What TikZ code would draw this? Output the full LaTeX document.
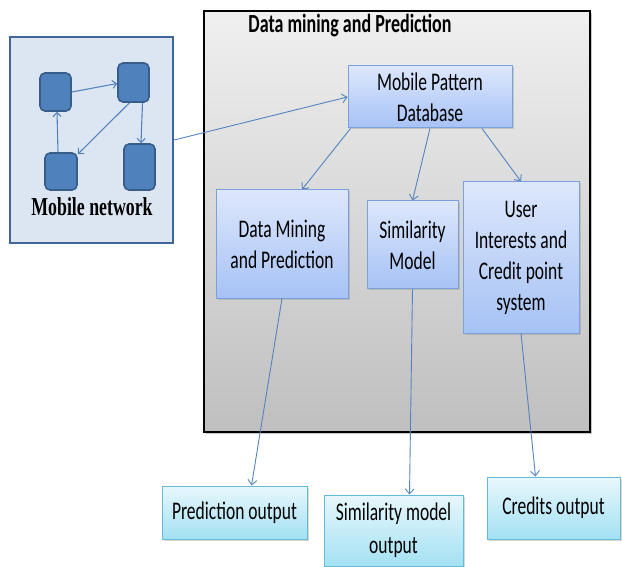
\documentclass[tikz,border=0pt]{standalone}
\usepackage{graphicx}
\usepackage{fontspec}
\setmainfont{Carlito}
\newfontfamily\netfont{Liberation Serif}
\usetikzlibrary{arrows.meta,shadows}

\definecolor{netfill}{HTML}{DCE6F2}
\definecolor{netedge}{HTML}{41669C}
\definecolor{sqfill}{HTML}{4F81BD}
\definecolor{sqedge}{HTML}{385D8A}
\definecolor{blktop}{HTML}{DDE7FC}
\definecolor{blkbot}{HTML}{A6C2F5}
\definecolor{blkedge}{HTML}{7CA0DA}
\definecolor{outtop}{HTML}{E8F7FC}
\definecolor{outbot}{HTML}{A3E1F3}
\definecolor{outedge}{HTML}{62BCD6}
\definecolor{flowblue}{HTML}{5583C0}

\newcommand{\tallline}[1]{\scalebox{1}[1.45]{#1}}

\begin{document}
\begin{tikzpicture}[x=1pt,y=-1pt]

    \tikzstyle{panel}=[rectangle, draw=black, line width=1.3pt, top color=gray!12, bottom color=gray!50,
                       inner sep=0pt, drop shadow={opacity=0.45, shadow xshift=2pt, shadow yshift=-2pt}]
    \tikzstyle{netbox}=[rectangle, draw=netedge, line width=2.2pt, fill=netfill, inner sep=0pt]
    \tikzstyle{sq}=[rectangle, rounded corners=5pt, draw=sqedge, line width=1.6pt, fill=sqfill, inner sep=0pt]
    \tikzstyle{blk}=[rectangle, draw=blkedge, line width=1pt, top color=blktop, bottom color=blkbot,
                     inner sep=0pt, align=center, font=\fontsize{17.5}{31}\selectfont,
                     drop shadow={opacity=0.3, shadow xshift=1.5pt, shadow yshift=-1.5pt}]
    \tikzstyle{outblk}=[blk, draw=outedge, top color=outtop, bottom color=outbot]
    \tikzstyle{flow}=[draw=flowblue, line width=0.9pt, -{Straight Barb[length=5pt,width=9pt]}]
    \tikzstyle{netflow}=[draw=flowblue, line width=1.1pt, -{Straight Barb[length=4pt,width=8pt]}]

    \useasboundingbox (0,0) rectangle (622,567);

    \node[panel, minimum width=386pt, minimum height=421pt] (dmp) at (397,221.5) {};
    \node[font=\bfseries\fontsize{18}{22}\selectfont] (ttl) at (350,26) {\tallline{Data mining and Prediction}};

    \node[netbox, minimum width=163pt, minimum height=206pt] (mobnet) at (91.5,140) {};
    \node[sq, minimum width=31pt, minimum height=38pt] (sq1) at (55.5,92)   {};
    \node[sq, minimum width=31pt, minimum height=39pt] (sq2) at (133.5,82.5) {};
    \node[sq, minimum width=32pt, minimum height=37pt] (sq3) at (61,171.5)  {};
    \node[sq, minimum width=31pt, minimum height=46pt] (sq4) at (139.5,167) {};
    \node[font=\netfont\bfseries\fontsize{17.8}{20}\selectfont] (netlbl) at (92,207) {\tallline{Mobile network}};

    \draw[netflow] (sq1.east) -- ([yshift=-1pt]sq2.west);
    \draw[netflow] ([xshift=9pt]sq2.south) -- ([xshift=1.5pt]sq4.north);
    \draw[netflow] ([xshift=-4pt]sq2.south) -- ([yshift=-2pt]sq3.north east);
    \draw[netflow] ([xshift=-3pt]sq3.north) -- ([xshift=1.5pt]sq1.south);

    \node[blk, minimum width=164pt, minimum height=62pt]  (mpd)  at (430,97)
        {\tallline{Mobile Pattern}\\\tallline{Database}};
    \node[blk, minimum width=132pt, minimum height=108pt] (dm)   at (282,244)
        {\tallline{Data Mining}\\\tallline{and Prediction}};
    \node[blk, minimum width=91pt,  minimum height=88pt]  (sim)  at (412.5,245)
        {\tallline{Similarity}\\\tallline{Model}};
    \node[blk, minimum width=116pt, minimum height=151pt] (user) at (521,257.5)
        {\tallline{User}\\\tallline{Interests and}\\\tallline{Credit point}\\\tallline{system}};

    \node[outblk, minimum width=145pt, minimum height=53pt] (pred)    at (234.5,512.5)
        {\tallline{Prediction output}};
    \node[outblk, minimum width=139pt, minimum height=71pt, font=\fontsize{17.5}{33}\selectfont]
                                                            (simout)  at (393.5,530.5)
        {\tallline{Similarity model}\\\tallline{output}};
    \node[outblk, minimum width=133pt, minimum height=62pt] (credits) at (553.5,508)
        {\tallline{Credits output}};

    \draw[flow] (mobnet.east) -- (mpd.west);
    \draw[flow] ([xshift=3pt]mpd.south west) -- ([xshift=20pt]dm.north);
    \draw[flow] (mpd.south) -- (sim.north);
    \draw[flow] ([xshift=52pt]mpd.south) -- (user.north);
    \draw[flow] (dm.south) -- ([xshift=17pt]pred.north);
    \draw[flow] (sim.south) -- ([xshift=16pt]simout.north);
    \draw[flow] (user.south) -- ([xshift=-18pt]credits.north);

\end{tikzpicture}
\end{document}
